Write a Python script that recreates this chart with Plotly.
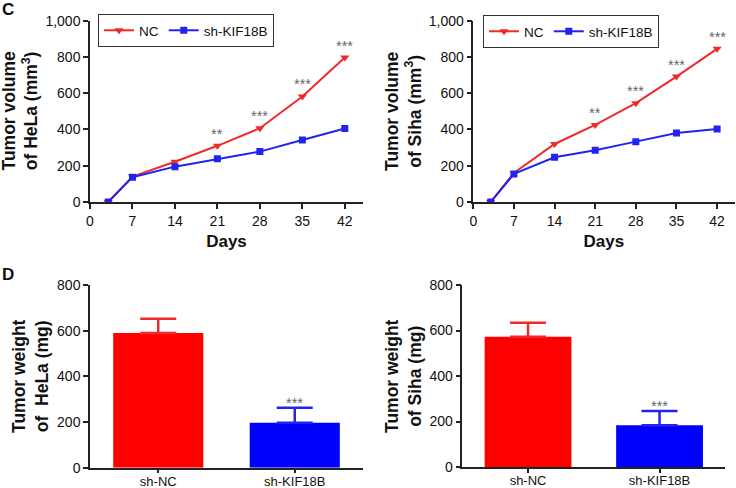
import plotly.graph_objects as go

# ---- data ----
days = [3, 7, 14, 21, 28, 35, 42]
hela_nc = [0, 140, 222, 310, 407, 582, 797]
hela_kif = [0, 137, 195, 238, 278, 342, 405]
siha_nc = [0, 160, 320, 425, 545, 692, 845]
siha_kif = [0, 155, 247, 285, 333, 380, 403]
day_ticks = [0, 7, 14, 21, 28, 35, 42]
hela_stars = ["", "", "", "**", "***", "***", "***"]
siha_stars = ["", "", "", "**", "***", "***", "***"]

bar_cats = ["sh-NC", "sh-KIF18B"]
hela_weight = [590, 197]
hela_weight_err = [62, 66]
siha_weight = [572, 183]
siha_weight_err = [62, 63]
bar_stars = ["", "***"]

RED = "#FF0000"
BLUE = "#0000FF"
LRED = "#F02A2A"
LBLUE = "#2323F0"
FONT = "Arial, Liberation Sans, sans-serif"
W, H = 736, 488

def px(x):
    return x / W

def py(y):
    return 1 - y / H

fig = go.Figure()

# line traces
fig.add_trace(go.Scatter(x=days, y=hela_nc, mode="lines+markers", name="NC",
                         line=dict(color=LRED, width=2),
                         marker=dict(symbol="triangle-down", size=8, color=LRED),
                         xaxis="x", yaxis="y", legend="legend"))
fig.add_trace(go.Scatter(x=days, y=hela_kif, mode="lines+markers", name="sh-KIF18B",
                         line=dict(color=LBLUE, width=2),
                         marker=dict(symbol="square", size=7, color=LBLUE),
                         xaxis="x", yaxis="y", legend="legend"))
fig.add_trace(go.Scatter(x=days, y=siha_nc, mode="lines+markers", name="NC",
                         line=dict(color=LRED, width=2),
                         marker=dict(symbol="triangle-down", size=8, color=LRED),
                         xaxis="x2", yaxis="y2", legend="legend2"))
fig.add_trace(go.Scatter(x=days, y=siha_kif, mode="lines+markers", name="sh-KIF18B",
                         line=dict(color=LBLUE, width=2),
                         marker=dict(symbol="square", size=7, color=LBLUE),
                         xaxis="x2", yaxis="y2", legend="legend2"))

# bar traces
for vals, errs, xa, ya in [(hela_weight, hela_weight_err, "x3", "y3"),
                           (siha_weight, siha_weight_err, "x4", "y4")]:
    for i, c in enumerate(bar_cats):
        col = RED if i == 0 else BLUE
        ecol = LRED if i == 0 else LBLUE
        fig.add_trace(go.Bar(x=[c], y=[vals[i]], width=0.66, marker=dict(color=col, line=dict(width=0)),
                             error_y=dict(type="data", array=[errs[i]], arrayminus=[0], symmetric=False,
                                          color=ecol, thickness=2.5, width=18),
                             showlegend=False, xaxis=xa, yaxis=ya))

axis_common = dict(showline=True, linecolor="#222", linewidth=1.5, ticks="outside",
                   tickcolor="#222", ticklen=5, tickwidth=1.5, showgrid=False, zeroline=False,
                   automargin=False,
                   tickfont=dict(family=FONT, size=14, color="#111"))
bar_x_common = dict(axis_common)
bar_x_common.update(ticklen=4, tickfont=dict(family=FONT, size=13, color="#111"), ticklabelstandoff=-3)

days_title = dict(text="<b>Days</b>", font=dict(family=FONT, size=17, color="#111"), standoff=8)
legend_font = dict(family=FONT, size=13.5, color="#111")

fig.update_layout(
    width=W, height=H, margin=dict(l=0, r=0, t=0, b=0, autoexpand=False),
    plot_bgcolor="white", paper_bgcolor="white",
    font=dict(family=FONT, color="#111"),
    barmode="group",
    xaxis=dict(domain=[px(90), px(363)], range=[0, 45], tickvals=day_ticks, anchor="y",
               title=days_title, **axis_common),
    yaxis=dict(domain=[py(202), py(20.7)], range=[0, 1000], tickvals=[0, 200, 400, 600, 800, 1000],
               tickformat=",", anchor="x", **axis_common),
    xaxis2=dict(domain=[px(473.3), px(734.5)], range=[0, 45], tickvals=day_ticks, anchor="y2",
                title=days_title, **axis_common),
    yaxis2=dict(domain=[py(202), py(20.7)], range=[0, 1000], tickvals=[0, 200, 400, 600, 800, 1000],
                tickformat=",", anchor="x2", **axis_common),
    xaxis3=dict(domain=[px(90), px(363)], range=[-0.5, 1.5], anchor="y3", type="category", **bar_x_common),
    yaxis3=dict(domain=[py(467.7), py(285)], range=[0, 800], tickvals=[0, 200, 400, 600, 800],
                anchor="x3", **axis_common),
    xaxis4=dict(domain=[px(462.3), px(725.3)], range=[-0.5, 1.5], anchor="y4", type="category", **bar_x_common),
    yaxis4=dict(domain=[py(467), py(285)], range=[0, 800], tickvals=[0, 200, 400, 600, 800],
                anchor="x4", **axis_common),
    legend=dict(x=px(98), y=py(14), xanchor="left", yanchor="top", orientation="h",
                bordercolor="#333", borderwidth=1, bgcolor="white",
                font=legend_font, itemwidth=30),
    legend2=dict(x=px(483), y=py(15), xanchor="left", yanchor="top", orientation="h",
                 bordercolor="#333", borderwidth=1, bgcolor="white",
                 font=legend_font, itemwidth=30),
)

annotations = []
# significance stars on line charts
for xa, ya, vals, stars in [("x", "y", hela_nc, hela_stars), ("x2", "y2", siha_nc, siha_stars)]:
    for d, v, s in zip(days, vals, stars):
        if s:
            annotations.append(dict(x=d, y=v, xref=xa, yref=ya, text=s, showarrow=False,
                                    yanchor="bottom", yshift=2,
                                    font=dict(family=FONT, size=14.5, color="#666")))
# stars on bars
for xa, ya, vals, errs in [("x3", "y3", hela_weight, hela_weight_err), ("x4", "y4", siha_weight, siha_weight_err)]:
    for c, v, e, s in zip(bar_cats, vals, errs, bar_stars):
        if s:
            annotations.append(dict(x=c, y=v + e, xref=xa, yref=ya, text=s, showarrow=False,
                                    yanchor="bottom", yshift=-5,
                                    font=dict(family=FONT, size=14.5, color="#666")))

# y-axis titles
ytitles = [
    ("<b>Tumor volume<br>of HeLa (mm<sup>3</sup>)</b>", 19.5, 111),
    ("<b>Tumor volume<br>of Siha (mm<sup>3</sup>)</b>", 403, 111),
    ("<b>Tumor weight<br>of  HeLa (mg)</b>", 30, 376),
    ("<b>Tumor weight<br>of Siha (mg)</b>", 403, 376),
]
for t, x, y in ytitles:
    annotations.append(dict(x=px(x), y=py(y), xref="paper", yref="paper", text=t, showarrow=False,
                            textangle=-90, xanchor="center", yanchor="middle",
                            font=dict(family=FONT, size=17.5, color="#111")))

# panel letters
annotations.append(dict(x=px(0), y=py(-2), xref="paper", yref="paper", text="<b>C</b>", showarrow=False,
                        xanchor="left", yanchor="top", font=dict(family=FONT, size=17, color="#111")))
annotations.append(dict(x=px(0), y=py(263), xref="paper", yref="paper", text="<b>D</b>", showarrow=False,
                        xanchor="left", yanchor="top", font=dict(family=FONT, size=17, color="#111")))

fig.update_layout(annotations=annotations)

fig.write_html("out.html", config={"displayModeBar": False},
               post_script="document.body.style.margin='0';document.body.style.overflow='hidden';")
